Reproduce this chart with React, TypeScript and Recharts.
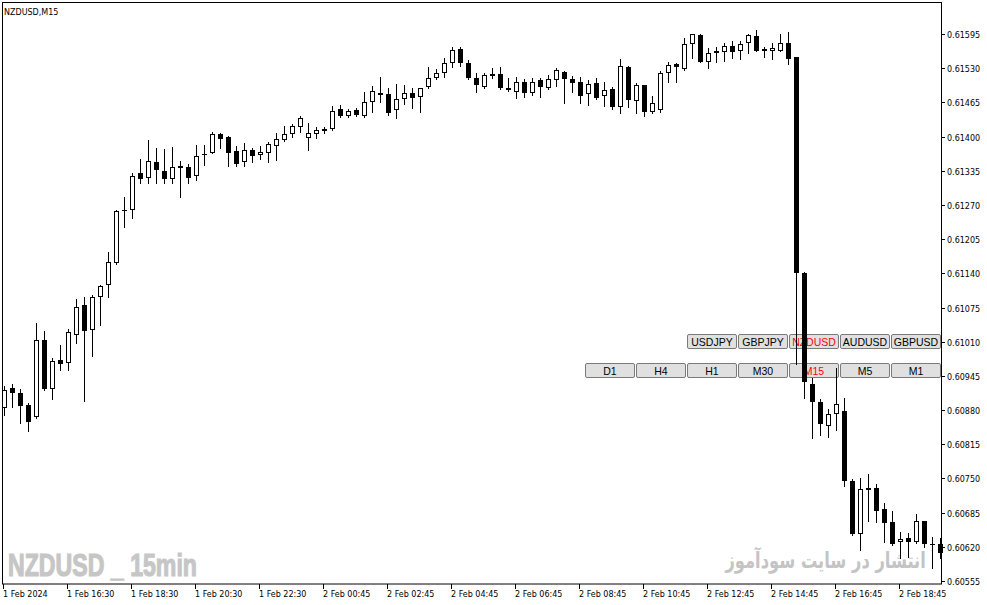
import React from 'react';
import { ComposedChart, Bar, XAxis, YAxis } from 'recharts';

const opens = [
  0.60884, 0.60922, 0.60912, 0.60890, 0.60867, 0.61013, 0.60920, 0.60975, 0.60969, 0.61023,
  0.61080, 0.61032, 0.61095, 0.61118, 0.61160, 0.61260, 0.61260, 0.61331, 0.61321, 0.61352,
  0.61335, 0.61319, 0.61344, 0.61342, 0.61325, 0.61367, 0.61369, 0.61405, 0.61399, 0.61373,
  0.61352, 0.61374, 0.61365, 0.61369, 0.61382, 0.61393, 0.61405, 0.61418, 0.61397, 0.61405,
  0.61411, 0.61414, 0.61452, 0.61439, 0.61450, 0.61439, 0.61466, 0.61483, 0.61481, 0.61450,
  0.61471, 0.61483, 0.61475, 0.61494, 0.61511, 0.61521, 0.61540, 0.61566, 0.61540, 0.61511,
  0.61494, 0.61515, 0.61519, 0.61492, 0.61485, 0.61504, 0.61483, 0.61508, 0.61492, 0.61508,
  0.61523, 0.61509, 0.61504, 0.61481, 0.61502, 0.61477, 0.61490, 0.61456, 0.61532, 0.61468,
  0.61498, 0.61447, 0.61450, 0.61521, 0.61538, 0.61528, 0.61576, 0.61593, 0.61542, 0.61559,
  0.61561, 0.61572, 0.61563, 0.61578, 0.61591, 0.61566, 0.61563, 0.61563, 0.61578, 0.61551,
  0.61141, 0.60930, 0.60895, 0.60850, 0.60872, 0.60878, 0.60745, 0.60644, 0.60732, 0.60732,
  0.60692, 0.60667, 0.60629, 0.60637, 0.60629, 0.60669, 0.60625, 0.60625,
];

const highs = [
  0.60926, 0.60930, 0.60920, 0.60893, 0.61046, 0.61030, 0.60979, 0.61004, 0.61034, 0.61091,
  0.61095, 0.61099, 0.61118, 0.61180, 0.61260, 0.61285, 0.61331, 0.61357, 0.61393, 0.61378,
  0.61376, 0.61380, 0.61354, 0.61348, 0.61384, 0.61384, 0.61409, 0.61406, 0.61401, 0.61382,
  0.61388, 0.61378, 0.61382, 0.61390, 0.61407, 0.61420, 0.61424, 0.61439, 0.61426, 0.61418,
  0.61418, 0.61458, 0.61460, 0.61452, 0.61454, 0.61485, 0.61496, 0.61513, 0.61492, 0.61500,
  0.61498, 0.61492, 0.61493, 0.61532, 0.61528, 0.61549, 0.61570, 0.61570, 0.61546, 0.61521,
  0.61521, 0.61530, 0.61532, 0.61511, 0.61513, 0.61509, 0.61511, 0.61511, 0.61517, 0.61530,
  0.61524, 0.61515, 0.61513, 0.61508, 0.61511, 0.61504, 0.61494, 0.61547, 0.61534, 0.61502,
  0.61499, 0.61477, 0.61525, 0.61542, 0.61539, 0.61587, 0.61596, 0.61595, 0.61568, 0.61570,
  0.61578, 0.61582, 0.61582, 0.61595, 0.61603, 0.61570, 0.61578, 0.61595, 0.61599, 0.61552,
  0.61142, 0.60941, 0.60901, 0.60882, 0.60960, 0.60903, 0.60749, 0.60751, 0.60758, 0.60739,
  0.60703, 0.60688, 0.60648, 0.60646, 0.60682, 0.60670, 0.60639, 0.60637,
];

const lows = [
  0.60871, 0.60886, 0.60855, 0.60840, 0.60865, 0.60918, 0.60901, 0.60956, 0.60956, 0.61007,
  0.60897, 0.60983, 0.61042, 0.61095, 0.61158, 0.61228, 0.61245, 0.61312, 0.61312, 0.61312,
  0.61312, 0.61312, 0.61285, 0.61312, 0.61317, 0.61346, 0.61368, 0.61378, 0.61344, 0.61344,
  0.61344, 0.61352, 0.61357, 0.61352, 0.61355, 0.61392, 0.61399, 0.61409, 0.61374, 0.61397,
  0.61407, 0.61412, 0.61437, 0.61437, 0.61439, 0.61437, 0.61447, 0.61466, 0.61441, 0.61435,
  0.61462, 0.61454, 0.61447, 0.61493, 0.61510, 0.61513, 0.61532, 0.61534, 0.61509, 0.61485,
  0.61492, 0.61511, 0.61490, 0.61487, 0.61473, 0.61475, 0.61479, 0.61475, 0.61491, 0.61496,
  0.61464, 0.61485, 0.61464, 0.61460, 0.61472, 0.61458, 0.61452, 0.61445, 0.61456, 0.61445,
  0.61439, 0.61445, 0.61447, 0.61504, 0.61504, 0.61527, 0.61549, 0.61541, 0.61530, 0.61542,
  0.61544, 0.61549, 0.61547, 0.61559, 0.61562, 0.61551, 0.61547, 0.61562, 0.61538, 0.60968,
  0.60903, 0.60827, 0.60833, 0.60829, 0.60842, 0.60736, 0.60643, 0.60614, 0.60669, 0.60667,
  0.60629, 0.60624, 0.60599, 0.60601, 0.60628, 0.60620, 0.60580, 0.60599,
];

const closes = [
  0.60918, 0.60912, 0.60888, 0.60857, 0.61013, 0.60920, 0.60973, 0.60968, 0.61028, 0.61076,
  0.61030, 0.61095, 0.61116, 0.61161, 0.61258, 0.61258, 0.61325, 0.61319, 0.61354, 0.61336,
  0.61319, 0.61342, 0.61340, 0.61321, 0.61363, 0.61366, 0.61405, 0.61395, 0.61369, 0.61348,
  0.61374, 0.61363, 0.61371, 0.61386, 0.61395, 0.61405, 0.61420, 0.61435, 0.61407, 0.61412,
  0.61414, 0.61449, 0.61439, 0.61449, 0.61441, 0.61466, 0.61487, 0.61479, 0.61445, 0.61471,
  0.61483, 0.61473, 0.61492, 0.61511, 0.61521, 0.61540, 0.61565, 0.61540, 0.61511, 0.61498,
  0.61517, 0.61519, 0.61492, 0.61488, 0.61504, 0.61483, 0.61504, 0.61494, 0.61509, 0.61527,
  0.61509, 0.61502, 0.61477, 0.61500, 0.61473, 0.61488, 0.61456, 0.61534, 0.61469, 0.61498,
  0.61447, 0.61464, 0.61521, 0.61536, 0.61532, 0.61576, 0.61595, 0.61542, 0.61559, 0.61563,
  0.61572, 0.61561, 0.61576, 0.61593, 0.61563, 0.61563, 0.61568, 0.61578, 0.61547, 0.61141,
  0.60933, 0.60895, 0.60853, 0.60872, 0.60892, 0.60745, 0.60644, 0.60730, 0.60728, 0.60688,
  0.60665, 0.60625, 0.60635, 0.60629, 0.60669, 0.60625, 0.60625, 0.60608,
];

const xTickLabels = [
  '1 Feb 2024', '1 Feb 16:30', '1 Feb 18:30', '1 Feb 20:30', '1 Feb 22:30',
  '2 Feb 00:45', '2 Feb 02:45', '2 Feb 04:45', '2 Feb 06:45', '2 Feb 08:45',
  '2 Feb 10:45', '2 Feb 12:45', '2 Feb 14:45', '2 Feb 16:45', '2 Feb 18:45',
];

const priceTicks = [
  0.60555, 0.6062, 0.60685, 0.6075, 0.60815, 0.6088, 0.60945, 0.6101, 0.61075,
  0.6114, 0.61205, 0.6127, 0.61335, 0.614, 0.61465, 0.6153, 0.61595,
];

const symbolButtons = ['USDJPY', 'GBPJPY', 'NZDUSD', 'AUDUSD', 'GBPUSD'];
const timeframeButtons = ['D1', 'H4', 'H1', 'M30', 'M15', 'M5', 'M1'];
const activeSymbol = 'NZDUSD';
const activeTimeframe = 'M15';
const chartTitle = 'NZDUSD,M15';
const watermarkLeft = 'NZDUSD _ 15min';
const watermarkRight = 'انتشار در سایت سودآموز';

const data = opens.map((o, i) => ({
  i,
  o,
  h: highs[i],
  l: lows[i],
  c: closes[i],
  range: [lows[i], highs[i]],
}));

const AXIS_FONT = '"DejaVu Sans", Verdana, sans-serif';

const Candle = (props: any) => {
  const { x, y, width, height, payload } = props;
  if (!payload || x == null) return null;
  const top = Math.min(y, y + height);
  const hpx = Math.abs(height);
  const { o, h, l, c } = payload;
  const k = h > l ? hpx / (h - l) : 0;
  const py = (p: number) => top + (h - p) * k;
  const cx = Math.round(x + width / 2) - 0.5;
  const yHi = Math.round(py(h));
  const yLo = Math.round(py(l));
  const bt = Math.round(py(Math.max(o, c)));
  const bb = Math.round(py(Math.min(o, c)));
  const bull = c > o;
  return (
    <g>
      <line x1={cx} x2={cx} y1={yHi} y2={yLo + 1} stroke="#000" strokeWidth={1} />
      {bull && bb - bt >= 2 ? (
        <rect x={cx - 2} y={bt + 0.5} width={4} height={bb - bt - 1} fill="#fff" stroke="#000" strokeWidth={1} />
      ) : (
        <rect x={cx - 2.5} y={bt} width={5} height={Math.max(bb - bt, 1)} fill="#000" />
      )}
    </g>
  );
};

const XTick = (props: any) => {
  const { x, y, payload } = props;
  const label = xTickLabels[Math.round(payload.value / 8)];
  const tx = Math.round(x) - 0.5;
  return (
    <g>
      <line x1={tx} x2={tx} y1={y} y2={y + 5} stroke="#000" />
      <text x={tx - 0.5} y={y + 13} textAnchor="start" fontFamily={AXIS_FONT} fontSize={8} fill="#000">
        {label}
      </text>
    </g>
  );
};

const YTick = (props: any) => {
  const { x, y, payload } = props;
  const ty = Math.round(y) + 0.5;
  return (
    <g>
      <line x1={x - 3} x2={x + 1} y1={ty} y2={ty} stroke="#000" />
      <text x={x + 3} y={ty + 3} textAnchor="start" fontFamily={AXIS_FONT} fontSize={8} fill="#000">
        {Number(payload.value).toFixed(5)}
      </text>
    </g>
  );
};

const ChartButton = ({ x, y, label, active }: { x: number; y: number; label: string; active: boolean }) => (
  <g>
    <rect x={x + 0.5} y={y + 0.5} width={49} height={14} rx={1.5} fill="#e0e0e0" stroke="#7a7a7a" />
    <text
      x={x + 25}
      y={y + 11.5}
      textAnchor="middle"
      fontFamily='"Liberation Sans", Arial, sans-serif'
      fontSize={10.5}
      fill={active ? '#ff0000' : '#000'}
    >
      {label}
    </text>
  </g>
);

export default function App() {
  return (
    <div style={{ position: 'absolute', left: 0, top: 0, width: 987, height: 605, background: '#fff' }}>
      <svg width={987} height={605} style={{ position: 'absolute', left: 0, top: 0 }}>
        <rect x={2.5} y={2.5} width={939} height={581.5} fill="#fff" stroke="#000" />
        <text x={4} y={15} fontFamily={AXIS_FONT} fontSize={8} fill="#000">
          {chartTitle}
        </text>
        <text
          x={8}
          y={576}
          fontFamily='"Liberation Sans", Arial, sans-serif'
          fontWeight="bold"
          fontSize={32}
          fill="#c6c6c6"
          stroke="#c6c6c6"
          strokeWidth={1.2}
          textLength={189}
          lengthAdjust="spacingAndGlyphs"
        >
          {watermarkLeft}
        </text>
        {symbolButtons.map((s, i) => (
          <ChartButton key={s} x={687 + 51 * i} y={334} label={s} active={s === activeSymbol} />
        ))}
        {timeframeButtons.map((s, i) => (
          <ChartButton key={s} x={585 + 51 * i} y={363} label={s} active={s === activeTimeframe} />
        ))}
      </svg>
      <div
        style={{
          position: 'absolute',
          right: 61,
          top: 549,
          direction: 'rtl',
          whiteSpace: 'nowrap',
          fontFamily: '"DejaVu Sans", sans-serif',
          fontWeight: 'bold',
          fontSize: 22,
          lineHeight: '24px',
          color: '#c4c4c4',
          transform: 'scaleX(0.74)',
          transformOrigin: 'right center',
        }}
      >
        {watermarkRight}
      </div>
      <div style={{ position: 'absolute', left: 0, top: 0 }}>
        <ComposedChart width={987} height={605} data={data} margin={{ top: 3, right: 0, bottom: 0, left: 0 }}>
          <XAxis
            dataKey="i"
            type="category"
            interval={7}
            height={21}
            axisLine={false}
            tickLine={false}
            tickSize={0}
            tickMargin={0}
            tick={<XTick />}
          />
          <YAxis
            orientation="right"
            width={43}
            domain={[0.605494, 0.61654]}
            allowDataOverflow
            ticks={priceTicks}
            interval={0}
            axisLine={false}
            tickLine={false}
            tickSize={0}
            tickMargin={0}
            tick={<YTick />}
          />
          <Bar dataKey="range" barSize={5} shape={<Candle />} isAnimationActive={false} />
        </ComposedChart>
      </div>
    </div>
  );
}
